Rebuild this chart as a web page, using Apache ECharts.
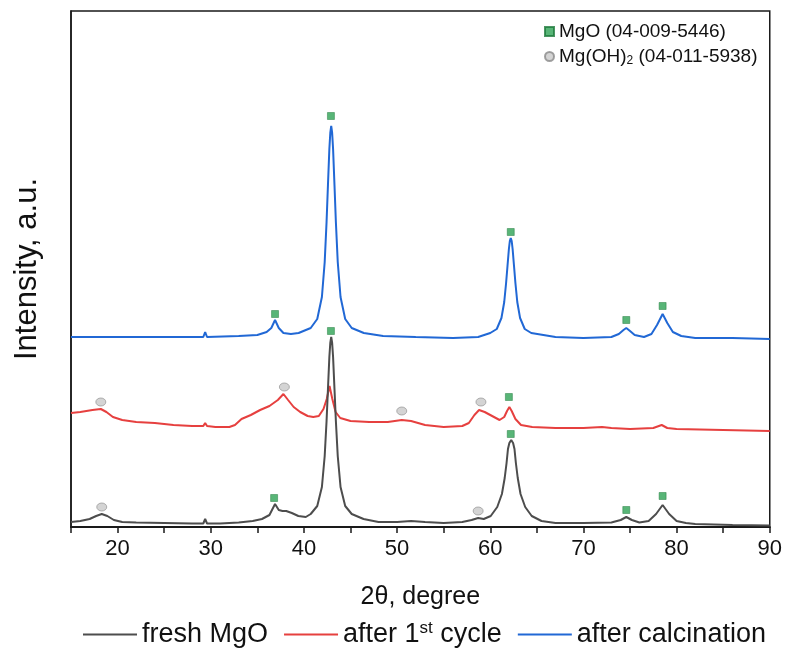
<!DOCTYPE html>
<html>
<head>
<meta charset="utf-8">
<script src="https://cdn.jsdelivr.net/npm/echarts@6/dist/echarts.min.js"></script>
<style>
  html, body { margin: 0; padding: 0; background: #ffffff; }
  #chart { width: 785px; height: 662px; }
</style>
</head>
<body>
<div id="chart"></div>
<script>
// XRD patterns, [2θ (degree), intensity (a.u., stacked offsets included)]
const freshMgO = [
  [15, 5], [16, 6], [17, 8], [17.7, 11], [18.3, 13], [18.9, 11], [19.6, 7], [20.5, 5],
  [22, 4.5], [25, 4], [28, 3.5], [29.2, 3.5], [29.4, 8], [29.6, 3.5], [31, 3.5], [33, 4.5],
  [34.5, 6], [35.5, 8], [36.3, 12], [36.9, 23], [37.3, 17], [37.7, 16], [38.1, 16],
  [38.7, 14], [39.4, 11], [40.2, 10], [40.73, 13], [41.43, 21], [41.93, 40], [42.23, 71],
  [42.43, 106], [42.58, 138], [42.73, 170], [42.83, 184], [42.93, 190], [43.03, 184],
  [43.13, 170], [43.28, 138], [43.43, 106], [43.63, 71], [43.93, 40], [44.43, 21],
  [45.13, 13], [46.4, 8], [48, 5], [50, 5], [51.5, 6], [53, 5], [55, 4], [57, 5], [58, 7],
  [58.7, 9], [59.3, 8], [60.05, 11], [60.75, 20], [61.25, 33], [61.55, 49], [61.75, 64],
  [61.9, 78], [62.05, 84], [62.25, 87], [62.45, 84], [62.6, 78], [62.75, 64], [62.95, 49],
  [63.25, 33], [63.75, 20], [64.45, 11], [65.5, 6], [67, 4], [70, 4], [73, 4.5], [74.0, 7],
  [74.6, 10], [75.2, 7], [76, 4.5], [77.0, 6], [77.8, 13], [78.5, 22], [79.2, 13],
  [80, 6], [81, 4], [82, 3], [86, 2], [90, 1.5]
];

const afterFirstCycle = [
  [15, 114], [16, 115], [17.3, 117], [18.2, 118], [18.8, 115], [19.5, 110], [20.5, 107],
  [22, 105], [24, 104], [26, 102], [28, 101], [29.2, 101], [29.4, 104], [29.6, 101],
  [30.5, 100], [32, 100], [32.6, 102], [33.3, 108], [34.3, 112], [35.3, 117], [36.3, 121],
  [37.2, 127], [37.8, 133], [38.3, 127], [38.9, 120], [39.6, 115], [40.4, 111], [41.0, 110],
  [41.6, 111], [42.1, 118], [42.45, 128], [42.75, 141], [43.05, 128], [43.4, 115],
  [43.9, 109], [45, 106], [47, 105], [49, 105], [50.5, 107], [51.5, 106], [53, 102],
  [55, 100], [57, 101], [57.7, 104], [58.3, 112], [58.8, 117], [59.4, 115], [60.2, 111],
  [61.0, 107], [61.5, 110], [61.8, 116], [62.05, 120], [62.3, 116], [62.7, 108],
  [63.3, 102], [64.5, 100], [67, 99], [70, 99], [72, 100], [73, 99], [75, 98], [77.5, 99],
  [78.4, 102], [79, 99], [80, 98], [85, 97], [90, 96]
];

const afterCalcination = [
  [15, 190], [20, 190], [25, 190], [29.2, 190], [29.4, 195], [29.6, 190], [33, 191],
  [35, 192], [36, 195], [36.5, 199], [36.9, 207], [37.3, 199], [37.8, 194], [38.6, 193],
  [39.43, 194], [40.73, 199], [41.43, 208], [41.93, 230], [42.23, 265], [42.43, 305],
  [42.58, 342], [42.73, 378], [42.83, 394], [42.93, 401], [43.03, 394], [43.13, 378],
  [43.28, 342], [43.43, 305], [43.63, 265], [43.93, 230], [44.43, 208], [45.13, 199],
  [46.43, 194], [48.5, 191], [52, 190], [56, 189], [58.7, 190], [60.0, 194], [60.7, 198],
  [61.2, 209], [61.5, 225], [61.7, 244], [61.85, 261], [62.0, 278], [62.1, 286],
  [62.2, 289], [62.3, 286], [62.4, 278], [62.55, 261], [62.7, 244], [62.9, 225],
  [63.2, 209], [63.7, 198], [64.4, 194], [65.7, 192], [67, 190], [70, 189], [73, 190],
  [73.8, 193], [74.3, 197], [74.6, 199], [75.0, 196], [75.5, 192], [76.5, 190], [77.3, 193],
  [77.9, 202], [78.5, 213], [79.0, 204], [79.6, 195], [80.5, 191], [82, 189], [86, 189],
  [90, 188]
];

// Phase identification marks placed above the reflections
const mgoMarks = [
  [36.9, 213], [42.9, 411], [62.2, 295], [74.6, 207], [78.5, 221],
  [62.0, 130],
  [36.8, 29], [42.9, 196], [62.2, 93], [74.6, 17], [78.5, 31]
];
const mgOH2Marks = [
  [18.2, 125], [37.9, 140], [50.5, 116], [59.0, 125],
  [18.3, 20], [58.7, 16]
];

const seriesNames = ['fresh MgO', 'after 1st cycle', 'after calcination'];
const phaseNames = ['MgO (04-009-5446)', 'Mg(OH)2 (04-011-5938)'];
const xTickLabels = [20, 30, 40, 50, 60, 70, 80, 90];

const FONT = '"Liberation Sans", Arial, sans-serif';
const AXIS_COLOR = '#1a1a1a';
const TEXT_COLOR = '#111111';

const chart = echarts.init(document.getElementById('chart'), null, { renderer: 'canvas' });

const lineSeries = (name, data, color, z) => ({
  name, type: 'line', data, showSymbol: false, symbol: 'none',
  lineStyle: { color, width: 2 }, itemStyle: { color }, z,
  animation: false
});

chart.setOption({
  animation: false,
  backgroundColor: '#ffffff',
  grid: {
    left: 71, right: 14, top: 11, bottom: 135,
    show: true, borderColor: AXIS_COLOR, borderWidth: 1.5
  },
  xAxis: {
    type: 'value', min: 15, max: 90, interval: 5,
    name: '2θ, degree', nameLocation: 'middle', nameGap: 58,
    nameTextStyle: { fontFamily: FONT, fontSize: 25, color: TEXT_COLOR },
    axisLine: { show: true, onZero: false, lineStyle: { color: AXIS_COLOR, width: 2 } },
    axisTick: { show: true, inside: false, length: 6, lineStyle: { color: AXIS_COLOR, width: 1.5 } },
    axisLabel: {
      fontFamily: FONT, fontSize: 22, color: TEXT_COLOR, margin: 11,
      formatter: v => (xTickLabels.indexOf(v) >= 0 ? String(v) : '')
    },
    splitLine: { show: false }
  },
  yAxis: {
    type: 'value', min: 0, max: 516,
    name: 'Intensity, a.u.', nameLocation: 'middle', nameGap: 28,
    nameTextStyle: { fontFamily: FONT, fontSize: 31, color: TEXT_COLOR },
    axisLine: { show: true, lineStyle: { color: AXIS_COLOR, width: 1.5 } },
    axisTick: { show: false },
    axisLabel: { show: false },
    splitLine: { show: false }
  },
  legend: [
    {
      data: seriesNames,
      bottom: 9, left: 78,
      icon: 'rect', itemWidth: 54, itemHeight: 2, itemGap: 16,
      textStyle: {
        fontFamily: FONT, fontSize: 27, color: TEXT_COLOR,
        rich: {
          n: { fontFamily: FONT, fontSize: 27, color: TEXT_COLOR },
          sup: { fontFamily: FONT, fontSize: 17, color: TEXT_COLOR, verticalAlign: 'top', padding: [0, 0, 12, 0] }
        }
      },
      formatter: name => name === 'after 1st cycle'
        ? '{n|after 1}{sup|st}{n| cycle}'
        : '{n|' + name + '}'
    },
    {
      data: [
        { name: phaseNames[0], icon: 'rect' },
        { name: phaseNames[1], icon: 'circle' }
      ],
      orient: 'vertical', left: 544, top: 22, padding: 0,
      itemWidth: 9, itemHeight: 9, itemGap: 6,
      textStyle: {
        fontFamily: FONT, fontSize: 19, color: TEXT_COLOR,
        rich: {
          n: { fontFamily: FONT, fontSize: 19, color: TEXT_COLOR },
          sub: { fontFamily: FONT, fontSize: 12, color: TEXT_COLOR, verticalAlign: 'bottom', padding: [9, 0, 0, 0] }
        }
      },
      formatter: name => name === phaseNames[1]
        ? '{n|Mg(OH)}{sub|2}{n| (04-011-5938)}'
        : '{n|' + name + '}'
    }
  ],
  series: [
    lineSeries(seriesNames[1], afterFirstCycle, '#e6403f', 2),
    lineSeries(seriesNames[2], afterCalcination, '#2168d5', 2),
    lineSeries(seriesNames[0], freshMgO, '#4d4d4d', 3),
    {
      name: phaseNames[0], type: 'scatter', data: mgoMarks,
      symbol: 'rect', symbolSize: [7, 7],
      itemStyle: { color: '#2ea355', borderColor: '#1f7a3c', borderWidth: 0.6 },
      z: 5, animation: false
    },
    {
      name: phaseNames[1], type: 'scatter', data: mgOH2Marks,
      symbol: 'circle', symbolSize: [10, 8],
      itemStyle: { color: '#c9c9c9', borderColor: '#8a8a8a', borderWidth: 0.8 },
      z: 5, animation: false
    }
  ]
});
</script>
</body>
</html>
